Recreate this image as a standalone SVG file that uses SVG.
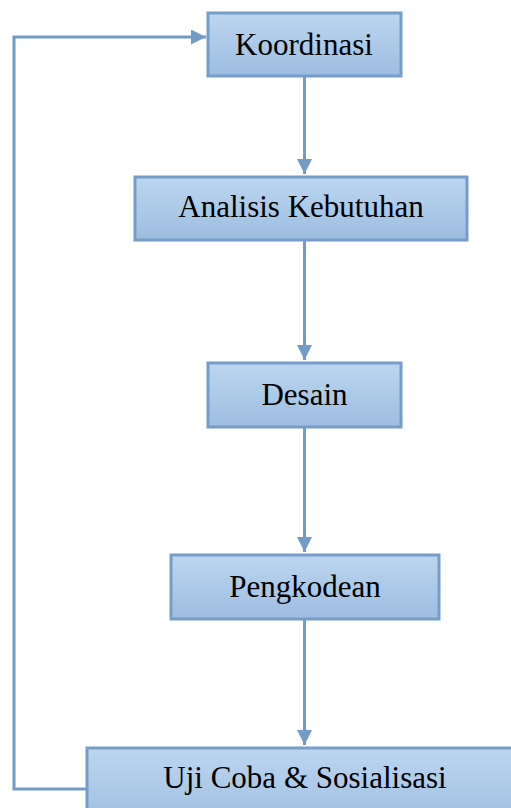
<svg xmlns="http://www.w3.org/2000/svg" width="511" height="808" viewBox="0 0 511 808">
<defs>
<linearGradient id="g" x1="0" y1="0" x2="0" y2="1">
<stop offset="0" stop-color="#bcd6f0"/>
<stop offset="1" stop-color="#9dbde0"/>
</linearGradient>
<marker id="ah" viewBox="0 0 10 10" refX="10" refY="5" markerWidth="5" markerHeight="5" markerUnits="strokeWidth" orient="auto">
<path d="M0,0 L10,5 L0,10 Z" fill="#729bc5"/>
</marker>
<style>
.box{fill:url(#g);stroke:#759dc7;stroke-width:3}
.lbl{font-family:"Liberation Serif","Times New Roman",serif;font-size:31px;fill:#000;text-anchor:middle}
.c{fill:none;stroke:#729bc5;stroke-width:3}
</style>
</defs>
<g id="connectors">
<path class="c" d="M304.5,77 V174" marker-end="url(#ah)"/>
<path class="c" d="M304.5,241 V360" marker-end="url(#ah)"/>
<path class="c" d="M304.5,428 V552" marker-end="url(#ah)"/>
<path class="c" d="M304.5,620 V745" marker-end="url(#ah)"/>
<path class="c" d="M86,789 H14 V37 H206" marker-end="url(#ah)"/>
</g>
<g id="koordinasi">
<rect class="box" x="208" y="13" width="193" height="63"/>
<text class="lbl" x="304" y="55">Koordinasi</text>
</g>
<g id="analisis">
<rect class="box" x="135" y="177" width="332" height="63"/>
<text class="lbl" x="301" y="217">Analisis Kebutuhan</text>
</g>
<g id="desain">
<rect class="box" x="208" y="363" width="193" height="64"/>
<text class="lbl" x="304.5" y="405">Desain</text>
</g>
<g id="pengkodean">
<rect class="box" x="171" y="555" width="268" height="64"/>
<text class="lbl" x="305" y="597">Pengkodean</text>
</g>
<g id="ujicoba">
<rect class="box" x="87" y="748" width="440" height="80"/>
<text class="lbl" x="305" y="788">Uji Coba &amp; Sosialisasi</text>
</g>
</svg>
